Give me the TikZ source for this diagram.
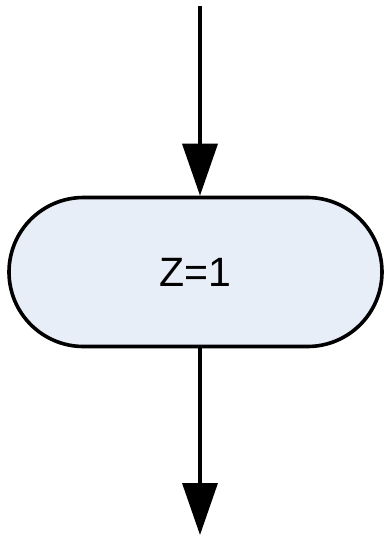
\documentclass[tikz,border=0pt]{standalone}
\usepackage{fontspec}
\setmainfont{Liberation Sans}
\usetikzlibrary{arrows.meta}
\definecolor{termfill}{HTML}{E8EEF8}
\tikzset{
  term/.style={draw=black, line width=3.6pt, fill=termfill, rounded corners=74.5pt,
    minimum width=373pt, minimum height=149pt, inner sep=0pt,
    font=\fontsize{41}{48}\selectfont},
  flow/.style={line width=3.6pt, -{Triangle[length=52pt,width=35pt]}}
}
\begin{document}
\begin{tikzpicture}[x=1pt,y=-1pt]
\useasboundingbox (0,0) rectangle (385,536);
\coordinate (top) at (200,6);
\node[term] (z) at (195.5,272) {Z=1};
\coordinate (bot) at (200,535);
\draw[flow] (top) -- (z.north -| top);
\draw[flow] (z.south -| bot) -- (bot);
\end{tikzpicture}
\end{document}
